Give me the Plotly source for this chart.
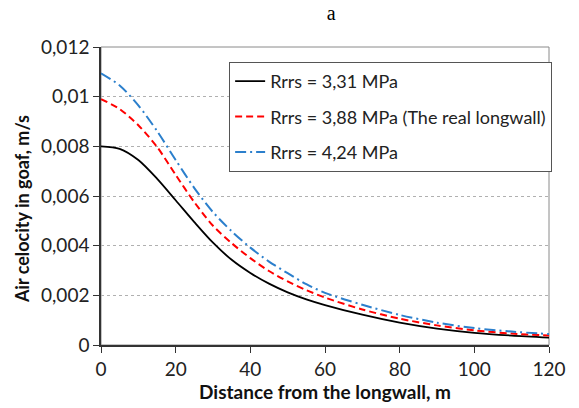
import plotly.graph_objects as go

# Data
x_vals = [0, 5, 10, 15, 20, 25, 30, 35, 40, 45, 50, 55, 60, 70, 80, 90, 100, 110, 120]
y_black = [0.00800, 0.00790, 0.00745, 0.00670, 0.00583, 0.00495, 0.00412, 0.00343, 0.00290, 0.00247,
           0.00212, 0.00184, 0.00161, 0.00122, 0.00090, 0.00066, 0.00049, 0.00038, 0.00030]
y_red = [0.00990, 0.00950, 0.00885, 0.00798, 0.00685, 0.00575, 0.00480, 0.00410, 0.00350, 0.00298,
         0.00256, 0.00221, 0.00191, 0.00143, 0.00106, 0.00079, 0.00059, 0.00046, 0.00038]
y_blue = [0.01094, 0.01045, 0.00965, 0.00862, 0.00745, 0.00632, 0.00535, 0.00458, 0.00392, 0.00336,
          0.00289, 0.00245, 0.00210, 0.00162, 0.00121, 0.00090, 0.00068, 0.00054, 0.00044]

names = ["Rrrs = 3,31 MPa", "Rrrs = 3,88 MPa (The real longwall)", "Rrrs = 4,24 MPa"]

y_tickvals = [0, 0.002, 0.004, 0.006, 0.008, 0.01, 0.012]
y_ticktext = ["0", "0,002", "0,004", "0,006", "0,008", "0,01", "0,012"]
x_tickvals = [0, 20, 40, 60, 80, 100, 120]

FONT = "Lato"
FS = 19

fig = go.Figure()
fig.add_trace(go.Scatter(x=x_vals, y=y_black, mode="lines", name=names[0], legendgroup="a",
                         line=dict(color="black", width=1.8, shape="spline", smoothing=0.8)))
fig.add_trace(go.Scatter(x=x_vals, y=y_red, mode="lines", name=names[1], legendgroup="b",
                         line=dict(color="#ff0000", width=2, dash="7px,4px", shape="spline", smoothing=0.8)))
fig.add_trace(go.Scatter(x=x_vals, y=y_blue, mode="lines", name=names[2], legendgroup="c",
                         line=dict(color="#2b7fcc", width=2, dash="11px,4px,2px,4px", shape="spline", smoothing=0.8)))

fig.update_layout(
    width=579, height=408,
    margin=dict(l=101, r=30, t=47, b=63),
    paper_bgcolor="white", plot_bgcolor="white",
    font=dict(family=FONT, size=FS, color="#222"),
    title=dict(text="a", x=0.572, xanchor="center", y=0.985, yanchor="top",
               font=dict(family="Liberation Serif", size=20, color="black")),
    showlegend=True,
    legend=dict(x=0.286, y=0.950, xanchor="left", yanchor="top",
                bordercolor="#555", borderwidth=1, bgcolor="white",
                font=dict(family=FONT, size=18, color="#222"),
                tracegroupgap=9, itemwidth=30),
    shapes=[dict(type="rect", xref="paper", yref="paper", x0=0, y0=0, x1=1, y1=1,
                 line=dict(color="#8a8a8a", width=1), layer="below")],
    annotations=[dict(text="<b>Air celocity in goaf, m/s</b>", textangle=-90,
                      xref="paper", yref="paper", x=0, y=0.456, xanchor="center", yanchor="middle",
                      xshift=-79, showarrow=False,
                      font=dict(family=FONT, size=FS - 1, color="#111"))],
)
fig.update_xaxes(range=[0, 120], tickvals=x_tickvals, ticks="outside", ticklen=6, tickcolor="#333",
                 showline=True, linecolor="#333", linewidth=1.5, showgrid=False, zeroline=False,
                 tickfont=dict(family=FONT, size=FS, color="#222"),
                 title=dict(text="<b>Distance from the longwall, m</b>", standoff=4,
                            font=dict(family=FONT, size=FS, color="#111")))
fig.update_yaxes(range=[0, 0.012], tickvals=y_tickvals, ticktext=y_ticktext, ticks="outside", ticklen=6,
                 tickcolor="#333", showline=True, linecolor="#333", linewidth=1.5,
                 showgrid=True, gridcolor="#b0b0b0", griddash="dot", gridwidth=1, zeroline=False,
                 tickfont=dict(family=FONT, size=FS, color="#222"))

fig.write_html("out.html")
